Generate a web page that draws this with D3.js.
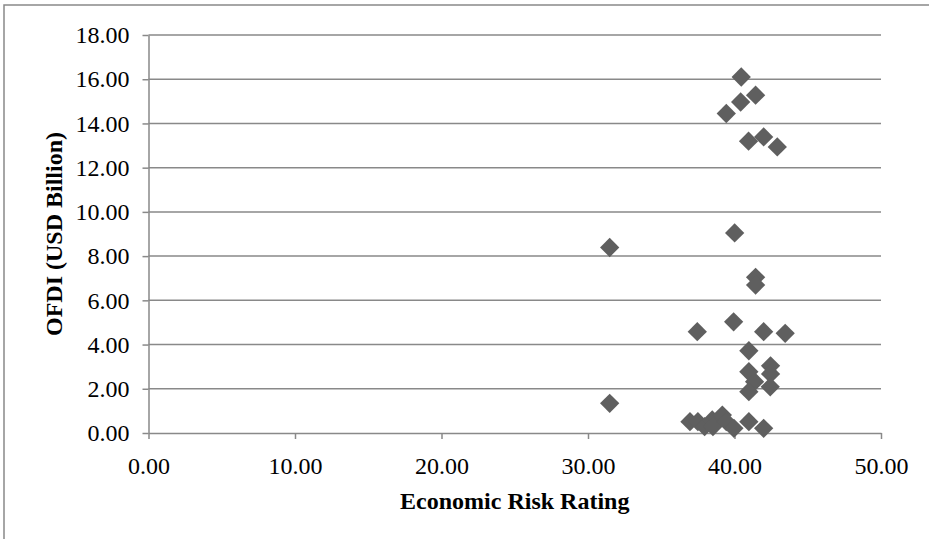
<!DOCTYPE html>
<html>
<head>
<meta charset="utf-8">
<script src="https://cdn.jsdelivr.net/npm/d3@7"></script>
<style>
  html, body { margin: 0; padding: 0; background: #fff; }
  svg { display: block; }
  text { font-family: "Liberation Serif", "Times New Roman", serif; fill: #000; }
</style>
</head>
<body>
<svg id="chart" width="929" height="539"></svg>
<script>
// Economic risk rating (x) against outward FDI in USD billion (y), one value per country
const riskRating = [
  40.46, 41.44, 40.42, 39.44, 40.96, 41.99, 42.92,
  40.01, 41.44, 41.44, 31.48, 31.48,
  37.46, 39.94, 41.99, 43.46, 40.98, 42.46, 42.46,
  40.98, 41.37, 40.98, 42.44,
  36.96, 37.50, 37.96, 38.48, 38.53, 39.17, 39.44, 39.96, 40.98, 41.99
];
const ofdi = [
  16.10, 15.28, 14.97, 14.45, 13.20, 13.39, 12.94,
  9.05, 7.04, 6.69, 8.39, 1.34,
  4.58, 5.03, 4.58, 4.51, 3.72, 3.04, 2.67,
  2.77, 2.32, 1.87, 2.09,
  0.51, 0.51, 0.29, 0.59, 0.29, 0.81, 0.51, 0.21, 0.51, 0.21
];
const xTicks = [0, 10, 20, 30, 40, 50];
const yTicks = [0, 2, 4, 6, 8, 10, 12, 14, 16, 18];
const xTitle = "Economic Risk Rating";
const yTitle = "OFDI (USD Billion)";

const svg = d3.select("#chart");
const lineColor = "#898989";
const markColor = "#5f5f5f";

const plot = { left: 148.5, right: 881, top: 35, bottom: 433 };

const x = d3.scaleLinear().domain([0, 50]).range([plot.left, plot.right]);
const y = d3.scaleLinear().domain([0, 18]).range([plot.bottom, plot.top]);
const fmt = d3.format(".2f");

// chart area frame
svg.append("path")
  .attr("d", "M4,539 V5 H929")
  .attr("fill", "none")
  .attr("stroke", lineColor)
  .attr("stroke-width", 1.5);

// horizontal gridlines
svg.append("g")
  .selectAll("line")
  .data(yTicks.filter(d => d > 0))
  .join("line")
  .attr("x1", plot.left)
  .attr("x2", plot.right)
  .attr("y1", d => y(d))
  .attr("y2", d => y(d))
  .attr("stroke", lineColor)
  .attr("stroke-width", 1.5);

// axes
const xAxis = svg.append("g")
  .attr("transform", `translate(0,${plot.bottom})`)
  .call(d3.axisBottom(x).tickValues(xTicks).tickFormat(fmt).tickSize(6).tickPadding(18).tickSizeOuter(0));

const yAxis = svg.append("g")
  .attr("transform", `translate(${plot.left},0)`)
  .call(d3.axisLeft(y).tickValues(yTicks).tickFormat(fmt).tickSize(6).tickPadding(13).tickSizeOuter(0));

[xAxis, yAxis].forEach(g => {
  g.select(".domain").attr("stroke", lineColor).attr("stroke-width", 1.5);
  g.selectAll(".tick line").attr("stroke", lineColor).attr("stroke-width", 1.5);
  g.selectAll(".tick text").attr("font-size", 24).attr("fill", "#000")
    .style("font-family", '"Liberation Serif", "Times New Roman", serif');
});

// diamond markers
const diamond = d3.symbol().type(d3.symbolSquare).size(186);
svg.append("g")
  .selectAll("path")
  .data(riskRating.map((r, i) => ({ r, v: ofdi[i] })))
  .join("path")
  .attr("d", diamond)
  .attr("transform", d => `translate(${x(d.r)},${y(d.v)}) rotate(45)`)
  .attr("fill", markColor);

// axis titles
svg.append("text")
  .attr("x", (plot.left + plot.right) / 2)
  .attr("y", 509)
  .attr("text-anchor", "middle")
  .attr("font-size", 24)
  .attr("font-weight", "bold")
  .text(xTitle);

svg.append("text")
  .attr("transform", `translate(62,${(plot.top + plot.bottom) / 2}) rotate(-90)`)
  .attr("text-anchor", "middle")
  .attr("font-size", 24)
  .attr("font-weight", "bold")
  .text(yTitle);
</script>
</body>
</html>
